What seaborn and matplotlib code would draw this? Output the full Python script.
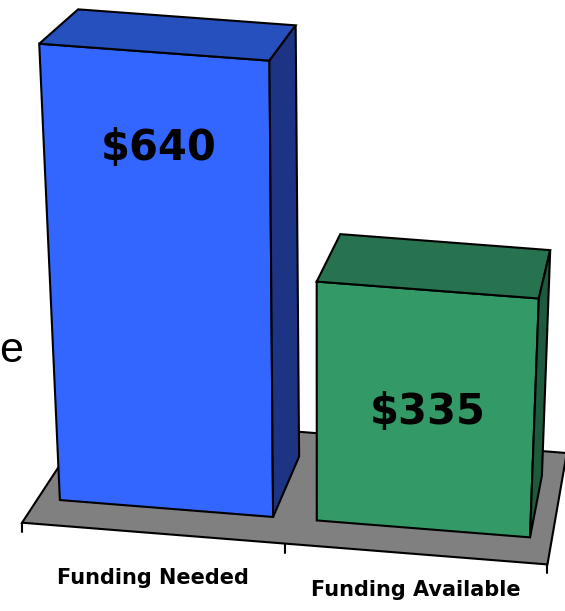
import numpy as np
import pandas as pd
import matplotlib
matplotlib.use("Agg")
import matplotlib.pyplot as plt
import matplotlib.transforms as mtransforms
from matplotlib.patches import Polygon
from matplotlib.lines import Line2D
import seaborn as sns

# Donnees du graphique
categories = ["Funding Needed", "Funding Available"]
values = [640, 335]
value_labels = ["$640", "$335"]

front_colors = ["#3366FF", "#339966"]
top_colors = ["#2650BE", "#27734F"]
side_colors = ["#1C3483", "#1E5A3D"]

W, H = 565, 611
LW = 1.5

# Vue 3D (perspective) : plan avant + point de fuite pour la profondeur
VP_U, VP_V = 746.0, -581.0
DEPTH_K = 0.0582
FLOOR_FRONT, FLOOR_BACK = -0.38, 1.43


def front_uv(X, Y):
    """Position ecran (y vers le bas) d'un point du plan avant"""
    u = 166.5 + 256.9 * X - 0.019 * Y + 0.032 * X * Y
    v = 508.5 + 20.4 * X - 0.713 * Y
    return u, v


def project(X, Y, Z):
    """Projection (X categorie, Y valeur, Z profondeur) -> pixels d'affichage"""
    u, v = front_uv(np.asarray(X, float), np.asarray(Y, float))
    s = 1.0 / (1.0 + DEPTH_K * Z)
    u = VP_U + (u - VP_U) * s
    v = VP_V + (v - VP_V) * s
    return u, H - v


class BarProjection(mtransforms.Transform):
    input_dims = 2
    output_dims = 2

    def __init__(self, z=0.0):
        super().__init__()
        self.z = z

    def transform_non_affine(self, values):
        values = np.asarray(values, float)
        u, v = project(values[:, 0], values[:, 1], self.z)
        return np.column_stack([u, v])


sns.set_style("white")
plt.rcParams["font.family"] = ["DejaVu Sans"]

fig = plt.figure(figsize=(W / 100, H / 100), dpi=100)
ax = fig.add_axes([0, 0, 1, 1])

df = pd.DataFrame({"cat": categories, "val": values})
sns.barplot(data=df, x="cat", y="val", hue="cat", palette=front_colors,
            saturation=1, width=0.83, edgecolor="black", linewidth=LW,
            legend=False, errorbar=None, ax=ax)
ax.set_axis_off()

pix = mtransforms.IdentityTransform()

# Sol gris
n = len(categories)
fl = [project(-0.5, 0, FLOOR_FRONT), project(n - 0.5, 0, FLOOR_FRONT),
      project(n - 0.5, 0, FLOOR_BACK), project(-0.5, 0, FLOOR_BACK)]
ax.add_patch(Polygon(fl, closed=True, facecolor="#808080", edgecolor="black",
                     linewidth=LW, transform=pix, zorder=0.5))

# Graduations sur le bord avant du sol
for xb in np.arange(n + 1) - 0.5:
    u, v = project(xb, 0, FLOOR_FRONT)
    ax.add_line(Line2D([u, u], [v, v - 9], color="black", linewidth=LW,
                       transform=pix, zorder=0.6))

# Faces des barres : face avant = barre seaborn projetee, puis dessus et cote
for i, bar in enumerate(ax.patches[:n]):
    bar.set_transform(BarProjection(0.0))
    bar.set_zorder(2)
    x0 = bar.get_x()
    x1 = x0 + bar.get_width()
    h = bar.get_height()
    top = [project(x0, h, 0), project(x1, h, 0), project(x1, h, 1), project(x0, h, 1)]
    side = [project(x1, 0, 0), project(x1, h, 0), project(x1, h, 1), project(x1, 0, 1)]
    ax.add_patch(Polygon(top, closed=True, facecolor=top_colors[i], edgecolor="black",
                         linewidth=LW, transform=pix, zorder=2))
    ax.add_patch(Polygon(side, closed=True, facecolor=side_colors[i], edgecolor="black",
                         linewidth=LW, transform=pix, zorder=2))

# Etiquettes des valeurs
label_frac = [0.79, 0.49]
for i, lab in enumerate(value_labels):
    u, v = project(i, values[i] * label_frac[i], 0)
    ax.text(u + 2, v, lab, transform=pix, ha="center", va="center", fontsize=30,
            fontweight="bold", color="black", zorder=5)

# Noms des categories sous le sol
label_drop = [45, 36]
for i, cat in enumerate(categories):
    u, v = project(i, 0, FLOOR_FRONT)
    ax.text(u, v - label_drop[i], cat, transform=pix, ha="center", va="center",
            fontsize=15, fontweight="bold", color="black", zorder=5)

# Reste d'un titre coupe a gauche
ax.text(-1, H - 362.5, "e", transform=pix, ha="left", va="baseline", fontsize=31,
        family=["Liberation Sans"], color="black", zorder=5)

fig.savefig("out.png", dpi=100, facecolor="white")
